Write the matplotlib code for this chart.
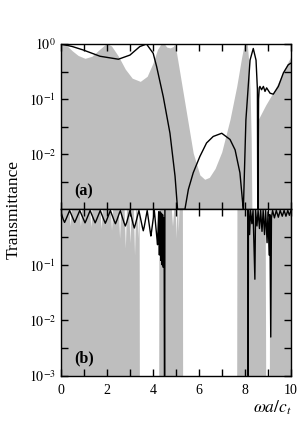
import matplotlib
matplotlib.use("Agg")
import matplotlib.pyplot as plt
from matplotlib.ticker import FixedLocator, NullFormatter

plt.rcParams["font.family"] = ["Liberation Serif", "DejaVu Serif"]
plt.rcParams["mathtext.fontset"] = "stix"

GRAY = "#bebebe"

# panel (a): upper edge of the grey band
ga_x = [0.0, 0.15, 0.3, 0.5, 0.75, 1.05, 1.35, 1.65, 1.9, 2.05, 2.2, 2.5, 2.8, 3.1, 3.45,
        3.75, 4.0, 4.2, 4.35, 4.5, 4.6, 4.75, 4.88, 4.95, 5.0, 5.17, 5.46, 5.75, 6.04,
        6.25, 6.45, 6.7, 6.99, 7.35, 7.64, 7.86, 7.97, 8.1, 8.16, 8.22, 8.27, 8.3, 8.56,
        8.58, 8.9, 9.3, 9.7, 10.0]
ga_y = [1.0, 1.0, 0.9, 0.75, 0.62, 0.55, 0.6, 0.78, 0.96, 1.0, 0.92, 0.6, 0.35, 0.24, 0.21,
        0.26, 0.45, 0.8, 1.0, 1.0, 0.88, 0.85, 0.9, 1.0, 0.8, 0.3, 0.056, 0.0105, 0.0042,
        0.0035, 0.0038, 0.0055, 0.011, 0.043, 0.17, 0.59, 1.0, 1.0, 0.5, 0.15, 0.02, 0.001, 0.001,
        0.043, 0.078, 0.15, 0.34, 0.6]

# panel (a): black curve
ta_x = [0.0, 0.5, 0.97, 1.7, 2.5, 3.0, 3.43, 3.72, 4.01, 4.16, 4.45, 4.74, 4.96, 5.07,
        5.39, 5.54, 5.75, 6.04, 6.33, 6.62, 6.99, 7.35, 7.57, 7.78, 7.9, 7.93,
        8.04, 8.22, 8.36, 8.48, 8.54, 8.555, 8.565, 8.59, 8.62, 8.65, 8.72, 8.8, 8.87,
        8.94, 9.09, 9.23, 9.45, 9.67, 9.88, 10.0]
ta_y = [1.0, 0.9, 0.78, 0.6, 0.53, 0.63, 0.9, 1.0, 0.68, 0.39, 0.11, 0.024, 0.004, 0.001,
        0.001, 0.0023, 0.0046, 0.0091, 0.016, 0.021, 0.024, 0.0185, 0.012, 0.0046, 0.0013, 0.001,
        0.042, 0.51, 0.83, 0.51, 0.15, 0.001, 0.001, 0.1, 0.16, 0.17, 0.148, 0.17, 0.138,
        0.16, 0.128, 0.123, 0.17, 0.3, 0.42, 0.45]

# panel (b): upper edge of the grey band
gb_x = [0.0, 0.35, 0.4, 0.45, 0.8, 0.85, 0.9, 1.25, 1.3, 1.35, 1.7, 1.75, 1.8, 2.15, 2.2,
        2.25, 2.5, 2.55, 2.6, 2.75, 2.8, 2.85, 2.95, 3.0, 3.05, 3.15, 3.2, 3.25, 3.3, 3.35,
        3.38, 3.4, 3.41, 4.25, 4.26, 4.8, 4.85, 4.9, 4.97, 5.0, 5.03, 5.08, 5.1, 5.13, 5.28,
        5.29, 7.64, 7.65, 8.87, 8.88, 8.9, 9.06, 9.07, 10.0]
gb_y = [1.0, 1.0, 0.5, 1.0, 1.0, 0.5, 1.0, 1.0, 0.48, 1.0, 1.0, 0.45, 1.0, 1.0, 0.42,
        1.0, 1.0, 0.3, 1.0, 1.0, 0.2, 1.0, 1.0, 0.25, 1.0, 1.0, 0.15, 1.0, 1.0, 0.3,
        1.0, 1.0, 0.001, 0.001, 1.0, 1.0, 0.5, 1.0, 1.0, 0.3, 1.0, 1.0, 0.4, 1.0, 1.0,
        0.001, 0.001, 1.0, 1.0, 0.4, 0.001, 0.001, 1.0, 1.0]

# panel (b): black curve
tb_x = [0.0, 0.1, 0.16, 0.22, 0.38, 0.54, 0.6, 0.66, 0.82, 0.99, 1.05, 1.11, 1.27, 1.43,
        1.49, 1.55, 1.71, 1.87, 1.93, 1.99, 2.15, 2.31, 2.37, 2.43, 2.58, 2.74, 2.8, 2.86,
        3.0, 3.14, 3.19, 3.24, 3.39, 3.54, 3.58, 3.62, 3.75, 3.88, 3.91, 3.94, 4.06, 4.18,
        4.2, 4.22, 4.25, 4.28, 4.31, 4.34, 4.37, 4.4, 4.42, 4.45, 4.47, 4.49, 4.5, 4.51,
        4.52, 8.13, 8.14, 8.15, 8.2, 8.24, 8.3, 8.35, 8.43, 8.46, 8.52, 8.57, 8.63, 8.68,
        8.74, 8.79, 8.85, 8.9, 8.96, 9.0, 9.05, 9.08, 9.12, 9.15, 9.2, 9.28, 9.36, 9.45,
        9.53, 9.62, 9.7, 9.78, 9.86, 9.93, 10.0]
tb_y = [0.9, 0.66, 0.58, 0.66, 0.95, 0.66, 0.58, 0.66, 0.95, 0.65, 0.57, 0.65, 0.95, 0.65,
        0.57, 0.65, 0.95, 0.64, 0.56, 0.64, 0.95, 0.63, 0.55, 0.63, 0.95, 0.58, 0.5, 0.58,
        0.95, 0.54, 0.46, 0.54, 0.95, 0.48, 0.41, 0.48, 0.95, 0.4, 0.33, 0.4, 0.95, 0.28,
        0.23, 0.4, 0.9, 0.15, 0.9, 0.12, 0.85, 0.1, 0.8, 0.09, 0.7, 0.08, 0.001, 0.001,
        1.0, 1.0, 0.001, 1.0, 0.35, 0.95, 0.55, 0.95, 0.055, 0.95, 0.5, 0.95, 0.45, 0.95,
        0.4, 0.95, 0.35, 0.95, 0.25, 0.9, 0.15, 0.8, 0.005, 0.7, 0.95, 0.7, 0.95, 0.72,
        0.95, 0.75, 0.95, 0.75, 0.95, 0.78, 0.95]

fig = plt.figure(figsize=(3.06, 4.36), dpi=100)
ax_a = fig.add_axes([0.199, 0.52, 0.752, 0.379])
ax_b = fig.add_axes([0.199, 0.138, 0.752, 0.382], sharex=ax_a)

panels = [(ax_a, ga_x, ga_y, ta_x, ta_y, "(a)"), (ax_b, gb_x, gb_y, tb_x, tb_y, "(b)")]
for ax, gx, gy, tx, ty, lab in panels:
    ax.fill_between(gx, 1e-3, gy, color=GRAY, lw=0)
    ax.plot(tx, ty, color="black", lw=1.0)
    ax.set_yscale("log")
    ax.set_ylim(1e-3, 1)
    ax.set_xlim(0, 10)
    ax.xaxis.set_major_locator(FixedLocator([0, 2, 4, 6, 8, 10]))
    ax.xaxis.set_minor_locator(FixedLocator([1, 3, 5, 7, 9]))
    ax.yaxis.set_minor_locator(FixedLocator([10**-0.5, 10**-1.5, 10**-2.5]))
    ax.yaxis.set_minor_formatter(NullFormatter())
    ax.tick_params(which="both", direction="in", top=True, right=True, labelsize=10)
    ax.tick_params(which="major", length=5, width=1.0)
    ax.tick_params(which="minor", length=5, width=1.0)
    ax.tick_params(axis="x", pad=6)
    for s in ax.spines.values():
        s.set_linewidth(1.0)
    ax.text(1.0, 1.5e-3, lab, fontsize=11.5, fontweight="bold", ha="center", va="bottom")

ax_a.yaxis.set_major_locator(FixedLocator([1, 1e-1, 1e-2]))
ax_a.set_yticklabels(["$10^0$", "$10^{-1}$", "$10^{-2}$"])
ax_b.yaxis.set_major_locator(FixedLocator([1e-1, 1e-2, 1e-3]))
ax_b.set_yticklabels(["$10^{-1}$", "$10^{-2}$", "$10^{-3}$"])
ax_a.tick_params(labelbottom=False)
ax_b.set_xticklabels(["0", "2", "4", "6", "8", "10"])

fig.text(0.045, 0.52, "Transmittance", rotation=90, fontsize=12.5, ha="center", va="center")
fig.text(0.955, 0.064, r"$\omega a/c_t$", fontsize=12.5, ha="right", va="center")

fig.savefig("out.png", dpi=100)
